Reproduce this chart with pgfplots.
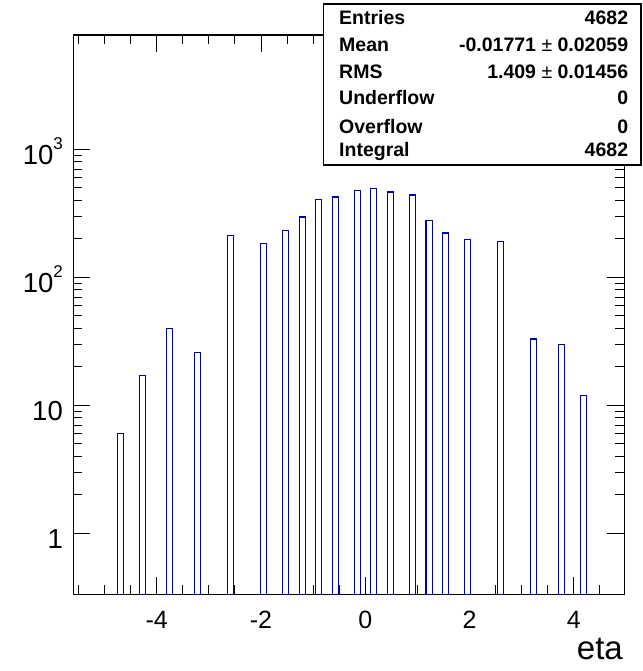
\documentclass[border=0pt]{standalone}
\usepackage{pgfplots}
\pgfplotsset{compat=1.18}
\usepackage{fontspec}
\setmainfont{Liberation Sans}
\definecolor{histblue}{RGB}{0,0,170}
\begin{document}
\begin{tikzpicture}[x=1pt,y=1pt]
\path[use as bounding box] (0,0) rectangle (642,671);
\begin{axis}[
  at={(73.3pt,76.7pt)}, anchor=south west,
  width=551pt, height=559.3pt, scale only axis,
  xmin=-5.6, xmax=4.97,
  ymode=log, ymin=0.3337, ymax=7820,
  log origin=infty,
  axis line style={line width=1.2pt},
  tick style={black, line width=0.9pt},
  tick align=inside,
  xtick pos=both, ytick pos=both,
  major tick length=17pt, minor tick length=9pt,
  xtick={-4,-2,0,2,4},
  xticklabels={-4,-2,0,2,4},
  minor xtick={-5.5,-5,-4.5,-3.5,-3,-2.5,-1.5,-1,-0.5,0.5,1,1.5,2.5,3,3.5,4.5},
  ytick={1,10,100,1000},
  yticklabels={{1},{10},{10\raisebox{15pt}{\fontsize{17}{17}\selectfont 2}},{10\raisebox{15pt}{\fontsize{17}{17}\selectfont 3}}},
  xticklabel style={font=\fontsize{25}{25}\selectfont, inner sep=0pt, anchor=north, yshift=-16.7pt},
  yticklabel style={font=\fontsize{27.5}{27.5}\selectfont, inner sep=0pt, anchor=base east, xshift=-10.3pt, yshift=-15.2pt},
  xlabel={eta},
  xlabel style={font=\fontsize{33}{33}\selectfont, at={(axis description cs:1,0)}, anchor=base east, inner sep=0pt, yshift=-64.7pt, xshift=-1.3pt},
  clip=true,
]
\addplot[ybar, bar width=0.117, bar shift=0pt, draw=histblue, fill=white, line width=1.25pt] coordinates {
(-4.70,6) (-4.27,17) (-3.75,40) (-3.22,26) (-2.59,212) (-1.95,184) (-1.53,233)
(-1.205,296) (-0.894,406) (-0.576,424) (-0.154,474) (0.162,495) (0.48,464)
(0.905,440) (1.225,279) (1.539,222) (1.956,198) (2.597,191) (3.226,33)
(3.759,30) (4.185,12)
};
\end{axis}
\draw[line width=1.2pt, fill=white] (323.3,667) rectangle (641,506);
\begin{scope}[every node/.style={inner sep=0pt, font=\fontsize{19.5}{19.5}\selectfont\bfseries}]
\node[anchor=base west] at (339,646) {Entries};
\node[anchor=base west] at (339,619.3) {Mean};
\node[anchor=base west] at (339,592.7) {RMS};
\node[anchor=base west] at (339,566) {Underflow};
\node[anchor=base west] at (339,537.7) {Overflow};
\node[anchor=base west] at (339,514.3) {Integral};
\node[anchor=base east] at (628.3,646) {4682};
\node[anchor=base east] at (628.3,619.3) {-0.01771 {\mdseries\textpm} 0.02059};
\node[anchor=base east] at (628.3,592.7) {1.409 {\mdseries\textpm} 0.01456};
\node[anchor=base east] at (628.3,566) {0};
\node[anchor=base east] at (628.3,537.7) {0};
\node[anchor=base east] at (628.3,514.3) {4682};
\end{scope}
\end{tikzpicture}
\end{document}
